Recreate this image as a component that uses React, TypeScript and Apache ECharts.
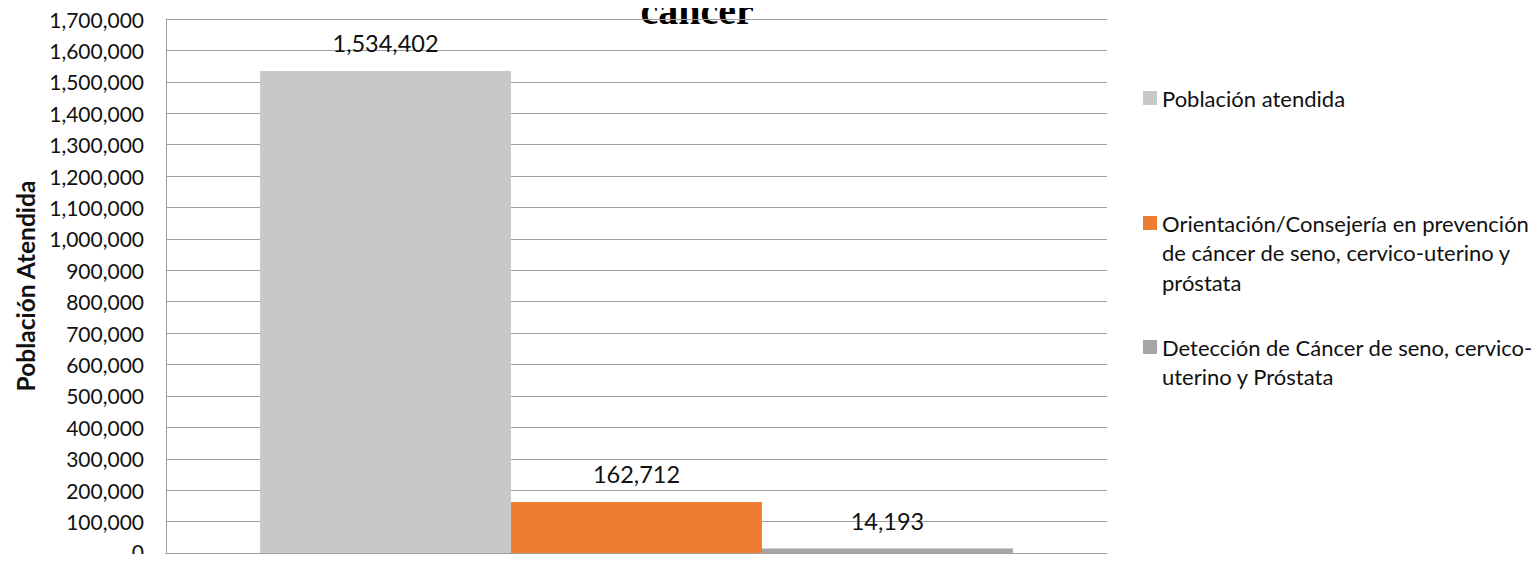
import { useEffect, useRef } from "react";
import * as echarts from "echarts";

// Category axis has a single, unlabeled group
const categories = [""];

const seriesNames = [
  "Población atendida",
  "Orientación/Consejería en prevención\nde cáncer de seno, cervico-uterino y\npróstata",
  "Detección de Cáncer de seno, cervico-\nuterino y Próstata",
];

const poblacionAtendida = [1534402];
const orientacionConsejeria = [162712];
const deteccionCancer = [14193];

const seriesValues = [poblacionAtendida, orientacionConsejeria, deteccionCancer];
const seriesColors = ["#C8C8C8", "#ED7D31", "#A5A5A5"];

const yAxisTitle = "Población Atendida";
const chartTitle = "cáncer";

const yMin = 0;
const yMax = 1700000;
const yStep = 100000;

const FONT = "Lato, 'Open Sans', sans-serif";
const TEXT = "#111111";
const GRID_LINE = "#A0A0A0";

const fmt = (v: number) => Number(v).toLocaleString("en-US");

// legend blocks: vertical position of each block's first line
const legendFirstLineY = [98, 223, 347];
const LEGEND_LH = 29.5;

export default function App() {
  const ref = useRef<HTMLDivElement>(null);

  useEffect(() => {
    if (!ref.current) return;
    const chart = echarts.init(ref.current, null, { renderer: "svg" });

    // Legend text is centred on its swatch; leading blank lines push a
    // multi-line entry down so that the swatch sits beside its first line.
    const legends = seriesNames.map((name, i) => {
      const lines = name.split("\n").length;
      const lead = lines - 1;
      const boxH = (lines + lead) * LEGEND_LH;
      return {
        data: [name],
        orient: "vertical",
        left: 1143,
        top: legendFirstLineY[i] - boxH / 2,
        padding: 0,
        itemWidth: 14,
        itemHeight: 14,
        icon: "rect",
        selectedMode: false,
        formatter: (n: string) => "\n".repeat(lead) + n,
        textStyle: {
          fontFamily: FONT,
          fontSize: 22,
          lineHeight: LEGEND_LH,
          color: TEXT,
        },
      };
    });

    chart.setOption({
      animation: false,
      backgroundColor: "#ffffff",
      textStyle: { fontFamily: FONT },
      graphic: [
        {
          type: "text",
          x: 697,
          y: 10,
          style: {
            text: chartTitle,
            fontFamily: "'Liberation Serif', serif",
            fontWeight: "bold",
            fontSize: 40,
            fill: "#000000",
            align: "center",
            verticalAlign: "middle",
          },
        },
      ],
      legend: legends,
      grid: {
        left: 166,
        right: 433,
        top: 19,
        bottom: 9,
        containLabel: false,
        outerBoundsMode: "none",
      },
      xAxis: {
        type: "category",
        data: categories,
        axisLine: { show: true, lineStyle: { color: GRID_LINE, width: 1 } },
        axisTick: { show: false },
        axisLabel: { show: false },
        splitLine: { show: false },
      },
      yAxis: {
        type: "value",
        min: yMin,
        max: yMax,
        interval: yStep,
        name: yAxisTitle,
        nameLocation: "middle",
        nameGap: 128,
        nameTextStyle: {
          fontFamily: FONT,
          fontWeight: "bold",
          fontSize: 24.5,
          color: TEXT,
        },
        axisLine: { show: true, lineStyle: { color: GRID_LINE, width: 1 } },
        axisTick: { show: false },
        axisLabel: {
          fontFamily: FONT,
          fontSize: 21,
          lineHeight: 17,
          color: TEXT,
          margin: 22,
          // the zero label sits at the bottom edge; lift it slightly
          formatter: (v: number) => (v === 0 ? "{z|0}" : fmt(v)),
          rich: {
            z: {
              fontFamily: FONT,
              fontSize: 21,
              lineHeight: 15,
              color: TEXT,
              padding: [0, 0, 4, 0],
            },
          },
        },
        splitLine: { show: true, lineStyle: { color: GRID_LINE, width: 1 } },
      },
      series: seriesNames.map((name, i) => ({
        type: "bar",
        name,
        data: seriesValues[i],
        barGap: "0%",
        barCategoryGap: "20%",
        itemStyle: { color: seriesColors[i] },
        label: {
          show: true,
          position: "top",
          distance: 16,
          fontFamily: FONT,
          fontSize: 23.5,
          color: TEXT,
          formatter: (p: any) => fmt(p.value),
        },
      })),
    });

    return () => chart.dispose();
  }, []);

  return <div ref={ref} style={{ width: 1540, height: 562, margin: -8 }} />;
}
